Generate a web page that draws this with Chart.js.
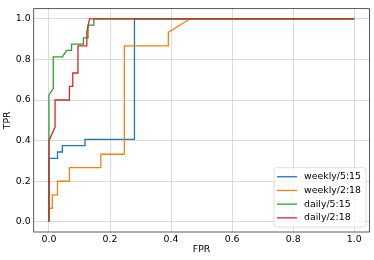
<!DOCTYPE html>
<html>
<head>
<meta charset="utf-8">
<script src="https://cdn.jsdelivr.net/npm/chart.js@4/dist/chart.umd.min.js"></script>
<style>
  html, body { margin: 0; padding: 0; background: #fff; }
  #wrap { width: 374px; height: 260px; }
</style>
</head>
<body>
<div id="wrap"><canvas id="roc"></canvas></div>
<script>
const seriesNames = ["weekly/5:15", "weekly/2:18", "daily/5:15", "daily/2:18"];
const seriesColors = ["#1f77b4", "#ff7f0e", "#2ca02c", "#d62728"];

const weekly515Fpr = [0, 0, 0.028, 0.028, 0.044, 0.044, 0.118, 0.118, 0.28, 0.28, 1];
const weekly515Tpr = [0, 0.3125, 0.3125, 0.344, 0.344, 0.375, 0.375, 0.406, 0.406, 1, 1];

const weekly218Fpr = [0, 0, 0.011, 0.011, 0.028, 0.028, 0.067, 0.067, 0.17, 0.17, 0.247, 0.247, 0.391, 0.391, 0.462, 1];
const weekly218Tpr = [0, 0.067, 0.067, 0.133, 0.133, 0.2, 0.2, 0.267, 0.267, 0.333, 0.333, 0.867, 0.867, 0.933, 1, 1];

const daily515Fpr = [0, 0, 0.014, 0.014, 0.044, 0.058, 0.074, 0.074, 0.113, 0.113, 0.128, 0.128, 0.147, 0.147, 1];
const daily515Tpr = [0, 0.625, 0.656, 0.8125, 0.8125, 0.844, 0.844, 0.875, 0.875, 0.906, 0.906, 0.969, 0.969, 1, 1];

const daily218Fpr = [0, 0, 0.02, 0.02, 0.067, 0.067, 0.078, 0.078, 0.095, 0.095, 0.124, 0.124, 0.133, 1];
const daily218Tpr = [0, 0.4, 0.467, 0.6, 0.6, 0.667, 0.667, 0.733, 0.733, 0.867, 0.867, 0.933, 1, 1];

const xTicks = [0, 0.2, 0.4, 0.6, 0.8, 1.0];
const yTicks = [0, 0.2, 0.4, 0.6, 0.8, 1.0];

const FONT_FAMILY = "'DejaVu Sans', sans-serif";
const FONT_SIZE = 9.4;

const toPoints = (xs, ys) => xs.map((x, i) => ({ x: x, y: ys[i] }));
const curves = [
    toPoints(weekly515Fpr, weekly515Tpr),
    toPoints(weekly218Fpr, weekly218Tpr),
    toPoints(daily515Fpr, daily515Tpr),
    toPoints(daily218Fpr, daily218Tpr),
];

// matplotlib-style frame round the plot area
const framePlugin = {
    id: "frame",
    afterDatasetsDraw(chart) {
        const { ctx, chartArea: a } = chart;
        ctx.save();
        ctx.strokeStyle = "#333";
        ctx.lineWidth = 0.8;
        ctx.strokeRect(a.left, a.top, a.right - a.left, a.bottom - a.top);
        ctx.restore();
    },
};

// legend drawn inside the plot, lower right
const innerLegend = {
    id: "innerLegend",
    afterDraw(chart) {
        const { ctx, chartArea: a } = chart;
        ctx.save();
        ctx.font = FONT_SIZE + "px " + FONT_FAMILY;
        const rowH = 13.7;
        const textW = Math.max(...seriesNames.map(n => ctx.measureText(n).width));
        const w = 3 + 20 + 7 + textW + 5;
        const h = rowH * seriesNames.length + 4.5;
        const x = a.right - 3.5 - w;
        const y = a.bottom - 5 - h;

        ctx.beginPath();
        ctx.roundRect(x, y, w, h, 2.5);
        ctx.fillStyle = "rgba(255,255,255,0.8)";
        ctx.fill();
        ctx.strokeStyle = "#d5d5d5";
        ctx.lineWidth = 0.8;
        ctx.stroke();

        seriesNames.forEach((name, i) => {
            const cy = y + 2.2 + rowH / 2 + i * rowH;
            ctx.beginPath();
            ctx.moveTo(x + 3, cy);
            ctx.lineTo(x + 23, cy);
            ctx.strokeStyle = seriesColors[i];
            ctx.lineWidth = 1.3;
            ctx.stroke();
            ctx.fillStyle = "#000";
            ctx.textAlign = "left";
            ctx.textBaseline = "middle";
            ctx.fillText(name, x + 30, cy);
        });
        ctx.restore();
    },
};

new Chart(document.getElementById("roc"), {
    type: "line",
    data: {
        datasets: curves.map((pts, i) => ({
            label: seriesNames[i],
            data: pts,
            borderColor: seriesColors[i],
            borderWidth: 1.3,
            pointRadius: 0,
            tension: 0,
            fill: false,
            order: curves.length - i,
        })),
    },
    options: {
        responsive: true,
        maintainAspectRatio: false,
        animation: false,
        layout: { padding: { top: 3.9, right: 4.5, left: 0, bottom: 0 } },
        plugins: {
            legend: { display: false },
            tooltip: { enabled: false },
        },
        scales: {
            x: {
                type: "linear",
                min: -0.05,
                max: 1.05,
                afterBuildTicks: s => { s.ticks = xTicks.map(v => ({ value: v })); },
                afterFit: s => { s.height = 28; },
                ticks: {
                    color: "#000",
                    padding: 2,
                    maxRotation: 0,
                    font: { family: FONT_FAMILY, size: FONT_SIZE },
                    callback: v => v.toFixed(1),
                },
                grid: { color: "#d2d2d2", lineWidth: 0.8, drawTicks: false },
                border: { display: false },
                title: {
                    display: true,
                    text: "FPR",
                    color: "#000",
                    padding: { top: 0, bottom: 5 },
                    font: { family: FONT_FAMILY, size: FONT_SIZE },
                },
            },
            y: {
                type: "linear",
                min: -0.05,
                max: 1.05,
                afterBuildTicks: s => { s.ticks = yTicks.map(v => ({ value: v })); },
                afterFit: s => { s.width = 33.7; },
                ticks: {
                    color: "#000",
                    padding: 3,
                    font: { family: FONT_FAMILY, size: FONT_SIZE },
                    callback: v => v.toFixed(1),
                },
                grid: { color: "#d2d2d2", lineWidth: 0.8, drawTicks: false },
                border: { display: false },
                title: {
                    display: true,
                    text: "TPR",
                    color: "#000",
                    padding: { top: 2.3, bottom: 0 },
                    font: { family: FONT_FAMILY, size: FONT_SIZE },
                },
            },
        },
    },
    plugins: [framePlugin, innerLegend],
});
</script>
</body>
</html>
